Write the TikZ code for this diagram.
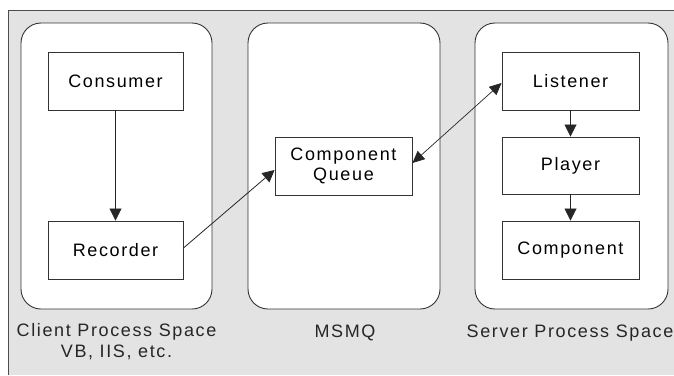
\documentclass[tikz,border=0pt]{standalone}
\usepackage{fontspec}
\setmainfont{Liberation Sans}[LetterSpace=9]
\usetikzlibrary{arrows.meta}
\begin{document}
\begin{tikzpicture}[x=1pt,y=-1pt,
  font=\fontsize{18}{21}\selectfont,
  space/.style={draw=black!80,fill=white,rounded corners=20pt,line width=0.9pt},
  comp/.style={draw=black!80,fill=white,line width=0.9pt,inner sep=0pt},
  lbl/.style={align=center,text=black!85},
  arr/.style={draw=black!85,line width=0.8pt,-{Triangle[length=12pt,width=12pt]}},
  darr/.style={draw=black!85,line width=0.7pt,{Triangle[length=12pt,width=11pt]}-{Triangle[length=12pt,width=11pt]}}]
\useasboundingbox (0,0) rectangle (674,375);
% background panel
\fill[black!11] (8.5,10.5) rectangle (674,375);
\draw[black!70,line width=1pt] (8.5,375) -- (8.5,10.5) -- (674,10.5);
% process spaces
\draw[space] (21,23) rectangle (212,309);
\draw[space] (248,23) rectangle (440,309);
\draw[space] (475,23) rectangle (668,309);
% components
\node[comp,minimum width=135pt,minimum height=58pt] (consumer) at (115.5,81) {Consumer};
\node[comp,minimum width=135pt,minimum height=58pt] (recorder) at (115.5,250) {Recorder};
\node[comp,minimum width=137pt,minimum height=58pt,align=center,font=\fontsize{18}{20}\selectfont] (queue) at (343.5,166) {Component\\Queue};
\node[comp,minimum width=137pt,minimum height=58pt] (listener) at (570.5,81) {Listener};
\node[comp,minimum width=137pt,minimum height=57pt] (player) at (570.5,165.5) {Player};
\node[comp,minimum width=137pt,minimum height=58pt] (component) at (570.5,250) {Component};
% labels
\node[lbl] (clientlbl) at (116.5,342) {Client Process Space\\VB, IIS, etc.};
\node[lbl] (msmqlbl) at (345,333) {MSMQ};
\node[lbl] (serverlbl) at (570,333) {Server Process Space};
% connectors
\draw[arr] (consumer) -- (recorder);
\draw[arr] (recorder.east |- 0,248) -- (queue.west |- 0,170);
\draw[darr] (queue.east |- 0,163) -- (listener.west |- 0,83);
\draw[arr] (listener) -- (player);
\draw[arr] (player) -- (component);
\end{tikzpicture}
\end{document}
